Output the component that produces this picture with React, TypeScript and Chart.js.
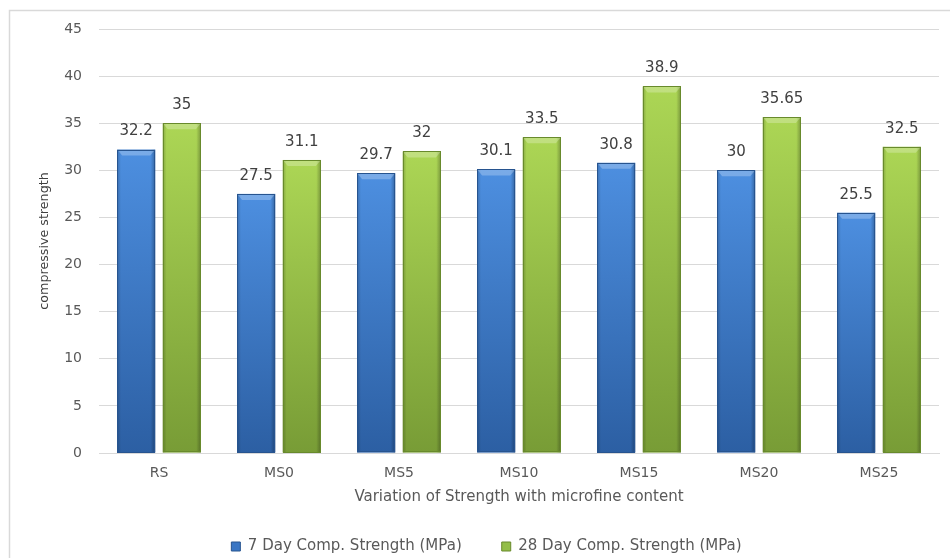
import React, { useEffect, useRef } from "react";
import { Chart, registerables } from "chart.js";

Chart.register(...registerables);

const categories = ["RS", "MS0", "MS5", "MS10", "MS15", "MS20", "MS25"];
const day7Values = [32.2, 27.5, 29.7, 30.1, 30.8, 30, 25.5];
const day28Values = [35, 31.1, 32, 33.5, 38.9, 35.65, 32.5];
const seriesNames = ["7 Day Comp. Strength (MPa)", "28 Day Comp. Strength (MPa)"];
const yMin = 0;
const yMax = 45;
const yStep = 5;
const xTitle = "Variation of Strength with microfine content";
const yTitle = "compressive strength";

const FONT = "'DejaVu Sans', sans-serif";

const palettes = [
  { top: "#4d8fe0", bottom: "#2c5fa3", border: "#27548f", solid: "#3a76c4" },
  { top: "#acd655", bottom: "#789c36", border: "#688a2c", solid: "#93be48" },
];

const framePlugin = {
  id: "frame",
  beforeDraw(chart: any) {
    const { ctx, width, height } = chart;
    ctx.save();
    ctx.fillStyle = "#ffffff";
    ctx.fillRect(0, 0, width, height);
    ctx.strokeStyle = "#d9d9d9";
    ctx.lineWidth = 1.5;
    ctx.beginPath();
    ctx.moveTo(9.5, height);
    ctx.lineTo(9.5, 10.5);
    ctx.lineTo(width, 10.5);
    ctx.stroke();
    ctx.restore();
  },
};

const bevelPlugin = {
  id: "bevel",
  afterDatasetsDraw(chart: any) {
    const { ctx } = chart;
    ctx.save();
    chart.data.datasets.forEach((ds: any, di: number) => {
      const meta = chart.getDatasetMeta(di);
      const pal = palettes[di];
      meta.data.forEach((el: any) => {
        const { x, y, base, width } = el.getProps(["x", "y", "base", "width"], true);
        const x0 = x - width / 2;
        const x1 = x + width / 2;
        const h = base - y;
        const g = ctx.createLinearGradient(0, y, 0, base);
        g.addColorStop(0, pal.top);
        g.addColorStop(1, pal.bottom);
        ctx.fillStyle = g;
        ctx.fillRect(x0, y, width, h);
        const hg = ctx.createLinearGradient(x0, 0, x1, 0);
        hg.addColorStop(0, "rgba(0,0,0,0.2)");
        hg.addColorStop(0.1, "rgba(0,0,0,0.0)");
        hg.addColorStop(0.88, "rgba(0,0,0,0.0)");
        hg.addColorStop(1, "rgba(0,0,0,0.28)");
        ctx.fillStyle = hg;
        ctx.fillRect(x0, y, width, h);
        const bv = Math.min(6, h / 2);
        ctx.fillStyle = "rgba(255,255,255,0.25)";
        ctx.beginPath();
        ctx.moveTo(x0, y);
        ctx.lineTo(x1, y);
        ctx.lineTo(x1 - 5, y + bv);
        ctx.lineTo(x0 + 5, y + bv);
        ctx.closePath();
        ctx.fill();
        ctx.strokeStyle = pal.border;
        ctx.lineWidth = 1;
        ctx.strokeRect(Math.round(x0) + 0.5, Math.round(y) + 0.5, Math.round(width) - 1, Math.round(h) - 1);
      });
    });
    ctx.restore();
  },
  afterDraw(chart: any) {
    const { ctx } = chart;
    ctx.save();
    ctx.font = `15px ${FONT}`;
    ctx.fillStyle = "#404040";
    ctx.textAlign = "center";
    ctx.textBaseline = "middle";
    chart.data.datasets.forEach((ds: any, di: number) => {
      const meta = chart.getDatasetMeta(di);
      meta.data.forEach((el: any, i: number) => {
        const { x, y } = el.getProps(["x", "y"], true);
        ctx.fillText(String(ds.data[i]), x, y - 18);
      });
    });
    ctx.restore();
  },
};

export default function App() {
  const ref = useRef<HTMLCanvasElement | null>(null);

  useEffect(() => {
    if (!ref.current) return;
    const chart = new Chart(ref.current, {
      type: "bar",
      data: {
        labels: categories,
        datasets: [
          {
            label: seriesNames[0],
            data: day7Values,
            backgroundColor: palettes[0].solid,
            borderColor: palettes[0].border,
            borderWidth: 1,
            categoryPercentage: 0.76,
            barPercentage: 0.835,
          },
          {
            label: seriesNames[1],
            data: day28Values,
            backgroundColor: palettes[1].solid,
            borderColor: palettes[1].border,
            borderWidth: 1,
            categoryPercentage: 0.76,
            barPercentage: 0.835,
          },
        ],
      },
      options: {
        responsive: false,
        animation: false,
        devicePixelRatio: 1,
        layout: { padding: { left: 34, right: 11, top: 29, bottom: -6 } },
        plugins: {
          tooltip: { enabled: false },
          legend: {
            position: "bottom",
            labels: {
              boxWidth: 9,
              boxHeight: 9,
              padding: 40,
              color: "#595959",
              font: { family: FONT, size: 15 },
            },
          },
        },
        scales: {
          x: {
            grid: { display: false },
            border: { display: true, color: "#d9d9d9" },
            ticks: { color: "#595959", font: { family: FONT, size: 14 }, padding: 4 },
            title: {
              display: true,
              text: xTitle,
              color: "#595959",
              font: { family: FONT, size: 15 },
              padding: { top: 0, bottom: -7 },
            },
            afterFit(scale: any) {
              scale.height = 46;
            },
          },
          y: {
            min: yMin,
            max: yMax,
            ticks: { stepSize: yStep, color: "#595959", font: { family: FONT, size: 14 }, padding: 17 },
            grid: { color: "#d9d9d9", drawTicks: false },
            border: { display: false },
            title: {
              display: true,
              text: yTitle,
              color: "#404040",
              font: { family: FONT, size: 12.7 },
              padding: { top: 3.5, bottom: 3 },
            },
            afterFit(scale: any) {
              scale.width = 65;
            },
          },
        },
      },
      plugins: [framePlugin, bevelPlugin],
    } as any);
    return () => chart.destroy();
  }, []);

  return (
    <div style={{ position: "fixed", left: 0, top: 0, width: 950, height: 558, background: "#fff" }}>
      <canvas ref={ref} width={950} height={558} style={{ display: "block", width: 950, height: 558 }} />
    </div>
  );
}
